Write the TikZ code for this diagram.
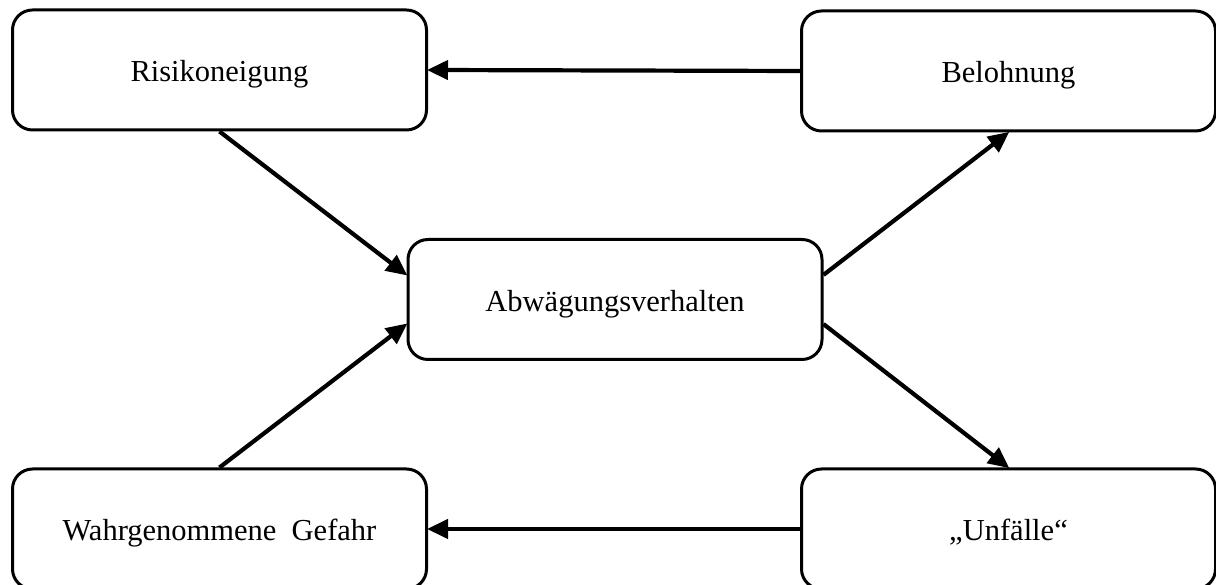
\documentclass[tikz,border=0pt]{standalone}
\usepackage{fontspec}
\setmainfont{Liberation Serif}
\usetikzlibrary{arrows.meta,calc}

\tikzset{
  box/.style={draw, line width=3pt, rounded corners=20pt,
    minimum width=414pt, minimum height=120pt, inner sep=0pt,
    fill=white},
  label/.style={font=\fontsize{30.5}{36}\selectfont, anchor=base, inner sep=0pt},
  link/.style={line width=4.2pt,
    -{Triangle[length=21pt,width=19pt]}, shorten >=-1pt}
}

\begin{document}
\begin{tikzpicture}[x=1pt,y=1pt]
  \useasboundingbox (0,0) rectangle (1216,585);
  \clip (0,0) rectangle (1216,585);

  % five boxes (y measured upwards from the bottom edge)
  \node[box] (risk) at (219.5,515) {};
  \node[box] (bel)  at (1008.5,514) {};
  \node[box] (abw)  at (615,285.5) {};
  \node[box] (gef)  at (219.5,56) {};
  \node[box] (unf)  at (1008.5,56) {};

  % box texts, set on a common baseline below each box centre
  \node[label] (riskT) at ($(risk.center)+(0,-12)$) {Risikoneigung};
  \node[label] (belT)  at ($(bel.center)+(0,-12)$) {Belohnung};
  \node[label] (abwT)  at ($(abw.center)+(0,-12)$) {Abwägungsverhalten};
  \node[label] (gefT)  at ($(gef.center)+(0,-12)$) {Wahrgenommene\ \ Gefahr};
  \node[label] (unfT)  at ($(unf.center)+(0,-12)$) {„Unfälle“};

  % attachment points on the left and right sides of the middle box
  \coordinate (abwLT) at ($(abw.north west)!0.3!(abw.south west)$);
  \coordinate (abwLB) at ($(abw.north west)!0.7!(abw.south west)$);
  \coordinate (abwRT) at ($(abw.north east)!0.3!(abw.south east)$);
  \coordinate (abwRB) at ($(abw.north east)!0.7!(abw.south east)$);

  % connectors
  \draw[link] (bel.west) -- (risk.east);
  \draw[link] (unf.west) -- (gef.east);
  \draw[link] (risk.south) -- (abwLT);
  \draw[link] (gef.north) -- (abwLB);
  \draw[link] (abwRT) -- (bel.south);
  \draw[link] (abwRB) -- (unf.north);
\end{tikzpicture}
\end{document}
